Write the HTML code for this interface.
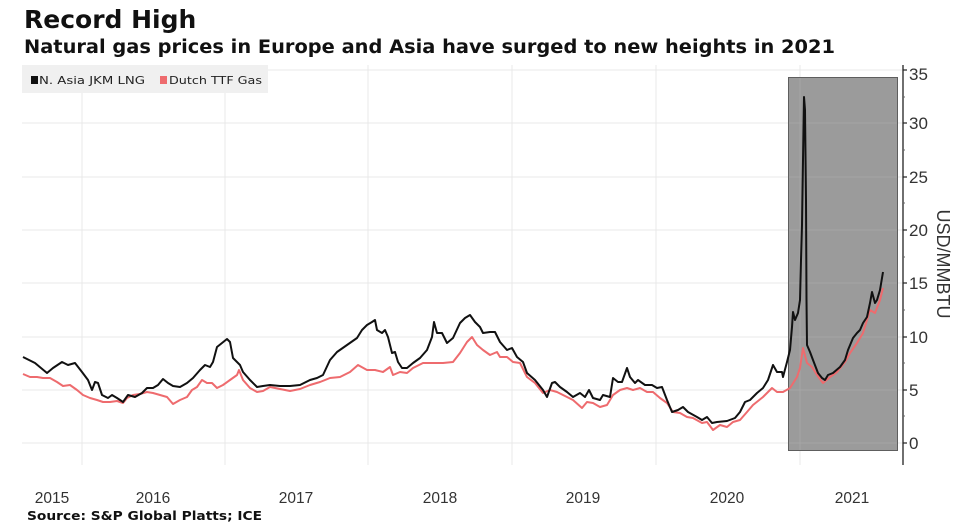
<!DOCTYPE html>
<html><head><meta charset="utf-8"><style>
html,body{margin:0;padding:0;background:#fff;}
svg{display:block;}
</style></head><body>
<svg width="960" height="530" viewBox="0 0 960 530" xmlns="http://www.w3.org/2000/svg">
<rect x="0" y="0" width="960" height="530" fill="#fff"/>
<text x="24" y="28" font-family="DejaVu Sans, sans-serif" font-weight="bold" font-size="25" fill="#111">Record High</text>
<text x="24" y="53" font-family="DejaVu Sans, sans-serif" font-weight="bold" font-size="18.5" fill="#111" textLength="811" lengthAdjust="spacingAndGlyphs">Natural gas prices in Europe and Asia have surged to new heights in 2021</text>

<!-- grid -->
<g stroke="#e8e8e8" stroke-width="1">
<line x1="22" y1="443" x2="903" y2="443"/>
<line x1="22" y1="390" x2="903" y2="390"/>
<line x1="22" y1="337" x2="903" y2="337"/>
<line x1="22" y1="283" x2="903" y2="283"/>
<line x1="22" y1="230" x2="903" y2="230"/>
<line x1="22" y1="177" x2="903" y2="177"/>
<line x1="22" y1="123" x2="903" y2="123"/>
<line x1="22" y1="70" x2="903" y2="70"/>
<line x1="82" y1="65" x2="82" y2="465"/>
<line x1="225" y1="65" x2="225" y2="465"/>
<line x1="368" y1="65" x2="368" y2="465"/>
<line x1="512" y1="65" x2="512" y2="465"/>
<line x1="656" y1="65" x2="656" y2="465"/>
<line x1="800" y1="65" x2="800" y2="465"/>
</g>

<!-- legend -->
<rect x="22" y="65" width="246" height="28" fill="#f0f0f0"/>
<rect x="31" y="76" width="7" height="8" fill="#111"/>
<text x="39" y="84" font-family="DejaVu Sans, sans-serif" font-size="11" fill="#222" textLength="106" lengthAdjust="spacingAndGlyphs">N. Asia JKM LNG</text>
<rect x="160" y="76" width="7" height="8" fill="#ee6b6e"/>
<text x="169" y="84" font-family="DejaVu Sans, sans-serif" font-size="11" fill="#222" textLength="93" lengthAdjust="spacingAndGlyphs">Dutch TTF Gas</text>

<!-- shaded region -->
<rect x="788.5" y="77.5" width="109" height="373" fill="#9b9b9b" stroke="#5e5e5e" stroke-width="1"/>
<g stroke="#a6a6a6" stroke-width="1">
<line x1="789" y1="443" x2="897" y2="443"/>
<line x1="789" y1="390" x2="897" y2="390"/>
<line x1="789" y1="337" x2="897" y2="337"/>
<line x1="789" y1="283" x2="897" y2="283"/>
<line x1="789" y1="230" x2="897" y2="230"/>
<line x1="789" y1="177" x2="897" y2="177"/>
<line x1="789" y1="123" x2="897" y2="123"/>
<line x1="800" y1="78" x2="800" y2="450"/>
</g>

<!-- red series -->
<polyline fill="none" stroke="#ee6b6e" stroke-width="2" stroke-linejoin="round" points="23,374 30,377 37,377 43,378 50,378 57,382 63,386 70,385 77,390 83,395 90,398 97,400 103,402 110,402 117,401 123,403 127,398 133,395 140,394 147,392 153,393 160,395 167,397 173,404 180,400 187,397 192,390 197,387 202,380 207,383 212,383 217,388 223,385 230,380 237,375 239,370 243,380 250,388 257,392 263,391 270,387 280,389 290,391 300,389 310,385 320,382 330,378 340,377 350,372 358,365 367,370 375,370 383,372 390,367 393,375 400,372 407,373 413,368 423,363 433,363 443,363 453,362 460,353 467,342 472,337 477,345 483,350 490,355 497,352 500,357 507,357 513,362 520,363 527,377 535,383 543,393 550,390 557,392 567,397 573,400 582,408 587,402 593,403 600,407 607,405 613,395 620,390 627,388 633,390 640,388 647,392 653,392 660,398 667,403 673,412 680,413 687,417 693,418 702,423 707,422 713,430 720,425 727,427 733,422 740,420 747,412 753,405 763,397 772,388 777,392 783,392 790,388 797,377 800,368 803,348 807,363 812,367 817,375 823,383 830,377 837,372 845,362 850,353 857,343 863,333 870,310 875,313 880,300 883,288"/>

<!-- black series -->
<polyline fill="none" stroke="#111" stroke-width="2" stroke-linejoin="round" points="23,357 35,363 47,373 53,368 62,362 68,365 75,363 82,372 88,380 92,390 95,382 98,383 102,395 108,398 112,395 117,398 123,402 128,395 135,397 142,393 147,388 153,388 158,385 163,379 168,383 173,386 180,387 187,383 193,378 200,370 205,365 210,367 213,362 217,347 222,343 227,339 230,342 233,358 240,365 243,372 250,380 257,387 263,386 270,385 280,386 290,386 300,385 310,380 317,378 323,375 330,360 337,352 347,345 357,338 362,330 367,325 372,322 375,320 377,330 382,333 385,330 388,337 392,353 395,352 398,362 402,368 407,368 413,363 420,358 427,350 432,337 434,322 437,333 442,333 447,343 453,338 460,323 465,318 470,315 475,322 480,327 483,333 490,332 495,332 500,342 507,350 512,348 517,357 523,362 527,373 535,380 543,390 547,397 552,383 555,382 560,387 567,392 573,397 580,393 585,397 589,390 593,398 600,400 603,395 610,397 613,378 618,382 622,382 627,368 630,377 635,383 638,380 645,385 652,385 657,388 662,387 667,400 672,412 678,410 683,407 688,412 697,417 702,420 707,417 712,423 717,422 727,421 735,418 740,412 745,402 750,400 757,393 763,388 768,380 773,365 777,372 782,372 783,377 787,362 790,350 792,327 793,312 795,320 798,313 800,300 801,260 802,225 803,160 804,97 805,110 806,200 806.5,300 807,345 810,352 813,360 818,373 822,378 825,380 828,375 833,373 840,367 845,360 848,350 853,338 857,333 860,330 863,323 867,317 870,303 872,292 875,303 877,300 880,290 883,272"/>

<!-- axis -->
<line x1="903" y1="65" x2="903" y2="465" stroke="#222" stroke-width="1.3"/>
<g stroke="#222" stroke-width="1.2">
<line x1="903" y1="443" x2="907" y2="443"/>
<line x1="903" y1="390" x2="907" y2="390"/>
<line x1="903" y1="337" x2="907" y2="337"/>
<line x1="903" y1="283" x2="907" y2="283"/>
<line x1="903" y1="230" x2="907" y2="230"/>
<line x1="903" y1="177" x2="907" y2="177"/>
<line x1="903" y1="123" x2="907" y2="123"/>
<line x1="903" y1="70" x2="907" y2="70"/>
</g>
<g stroke="#666" stroke-width="1">
<line x1="903" y1="416" x2="905" y2="416"/>
<line x1="903" y1="363" x2="905" y2="363"/>
<line x1="903" y1="310" x2="905" y2="310"/>
<line x1="903" y1="257" x2="905" y2="257"/>
<line x1="903" y1="203" x2="905" y2="203"/>
<line x1="903" y1="150" x2="905" y2="150"/>
<line x1="903" y1="97" x2="905" y2="97"/>
</g>
<g font-family="Liberation Sans, sans-serif" font-size="17" fill="#333">
<text x="909" y="449">0</text>
<text x="909" y="396">5</text>
<text x="909" y="343">10</text>
<text x="909" y="289">15</text>
<text x="909" y="236">20</text>
<text x="909" y="183">25</text>
<text x="909" y="129">30</text>
<text x="909" y="80">35</text>
</g>
<text transform="translate(937,264) rotate(90)" text-anchor="middle" font-family="Liberation Sans, sans-serif" font-size="18" fill="#333">USD/MMBTU</text>

<!-- x labels -->
<g font-family="Liberation Sans, sans-serif" font-size="15.5" fill="#333" text-anchor="middle">
<text x="52" y="503">2015</text>
<text x="153" y="503">2016</text>
<text x="296" y="503">2017</text>
<text x="440" y="503">2018</text>
<text x="583" y="503">2019</text>
<text x="727" y="503">2020</text>
<text x="852" y="503">2021</text>
</g>

<text x="27" y="520" font-family="DejaVu Sans, sans-serif" font-weight="bold" font-size="12" fill="#111" textLength="235" lengthAdjust="spacingAndGlyphs">Source: S&amp;P Global Platts; ICE</text>
</svg>
</body></html>
